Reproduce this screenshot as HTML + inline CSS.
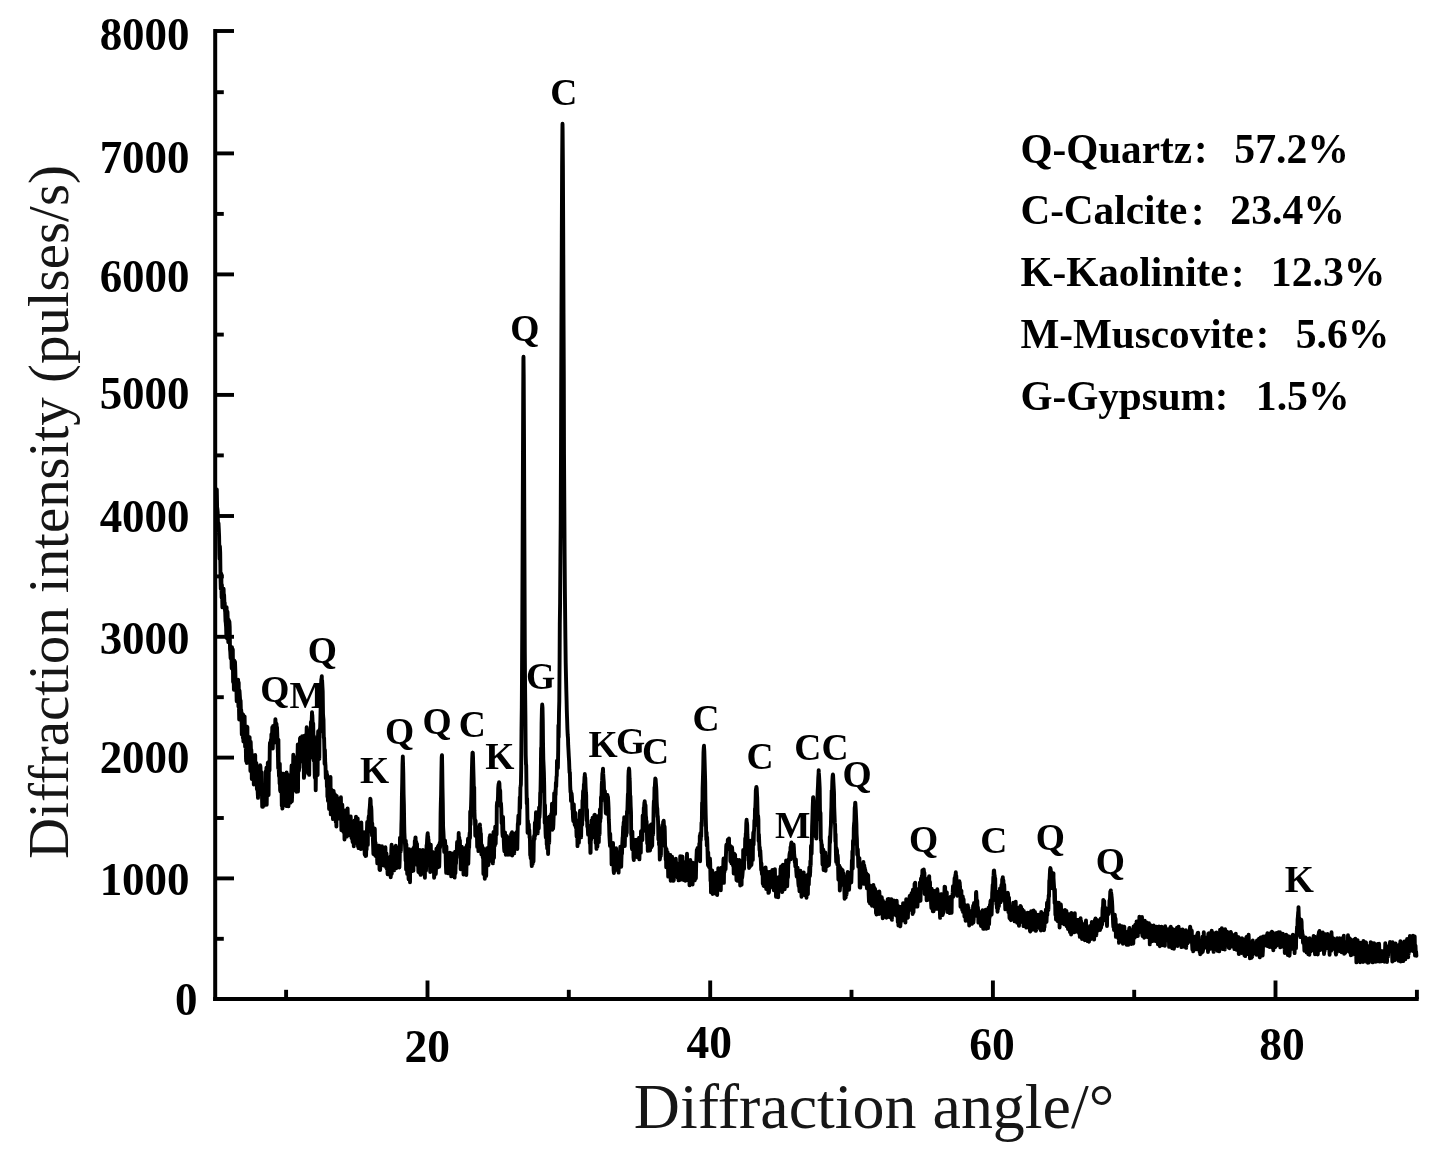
<!DOCTYPE html>
<html lang="en"><head><meta charset="utf-8"><title>XRD pattern</title>
<style>html,body{margin:0;padding:0;background:#fff;}body{width:1435px;height:1155px;overflow:hidden;}svg{display:block;}.b{font-family:"Liberation Serif","Noto Serif CJK SC",serif;font-weight:bold;fill:#000;}.r{font-family:"Liberation Serif","Noto Serif CJK SC",serif;fill:#161616;}</style></head><body>
<svg width="1435" height="1155" viewBox="0 0 1435 1155">
<rect width="1435" height="1155" fill="#fff"/>
<g stroke="#000" stroke-width="4.0" fill="none" stroke-linecap="butt">
<path d="M215.2,29.0 V1001.1"/>
<path d="M213.2,999.1 H1418.7"/>
</g>
<g stroke="#000" stroke-width="3.9" fill="none">
<path d="M215.2,938.8 h8.6"/>
<path d="M215.2,878.4 h18.8"/>
<path d="M215.2,818.0 h8.6"/>
<path d="M215.2,757.6 h18.8"/>
<path d="M215.2,697.2 h8.6"/>
<path d="M215.2,636.8 h18.8"/>
<path d="M215.2,576.4 h8.6"/>
<path d="M215.2,516.0 h18.8"/>
<path d="M215.2,455.4 h8.6"/>
<path d="M215.2,394.9 h18.8"/>
<path d="M215.2,334.6 h8.6"/>
<path d="M215.2,274.4 h18.8"/>
<path d="M215.2,213.9 h8.6"/>
<path d="M215.2,153.4 h18.8"/>
<path d="M215.2,92.2 h8.6"/>
<path d="M215.2,31.0 h18.8"/>
<path d="M286.1,999.1 v-9.3"/>
<path d="M427.5,999.1 v-18.6"/>
<path d="M568.8,999.1 v-9.3"/>
<path d="M710.2,999.1 v-18.6"/>
<path d="M851.5,999.1 v-9.3"/>
<path d="M992.9,999.1 v-18.6"/>
<path d="M1134.2,999.1 v-9.3"/>
<path d="M1275.5,999.1 v-18.6"/>
<path d="M1416.9,999.1 v-9.3"/>
</g>
<g class="b" font-size="45" text-anchor="end">
<text transform="translate(189.6,895.2) scale(1,1.035)">1000</text>
<text transform="translate(189.6,773.4) scale(1,1.035)">2000</text>
<text transform="translate(189.6,654.0) scale(1,1.035)">3000</text>
<text transform="translate(189.6,532.0) scale(1,1.035)">4000</text>
<text transform="translate(189.6,409.4) scale(1,1.035)">5000</text>
<text transform="translate(189.6,292.1) scale(1,1.035)">6000</text>
<text transform="translate(189.6,173.0) scale(1,1.035)">7000</text>
<text transform="translate(189.6,49.9) scale(1,1.035)">8000</text>
<text transform="translate(197.6,1014.8) scale(1,1.035)">0</text>
</g>
<g class="b" font-size="45.5" text-anchor="middle">
<text x="427.2" y="1061.7">20</text>
<text x="709.3" y="1057.7">40</text>
<text x="991.9" y="1059.7">60</text>
<text x="1282.0" y="1059.7">80</text>
</g>
<text class="r" font-size="63" x="874.0" y="1128" text-anchor="middle" textLength="480.5" lengthAdjust="spacingAndGlyphs">Diffraction angle/°</text>
<text class="r" font-size="57.5" transform="translate(68.4,512) rotate(-90)" text-anchor="middle" textLength="694" lengthAdjust="spacingAndGlyphs">Diffraction intensity (pulses/s)</text>
<polyline points="216.0,506.7 216.3,490.7 216.6,493.1 216.8,489.5 217.1,507.0 217.4,509.0 217.7,512.2 218.0,525.3 218.2,531.1 218.5,523.2 218.8,529.2 219.1,536.4 219.4,554.0 219.6,558.9 219.9,546.3 220.2,552.9 220.5,578.0 220.8,589.0 221.0,577.6 221.3,573.8 221.6,597.5 221.9,584.7 222.2,599.0 222.4,607.4 222.7,600.7 223.0,594.7 223.3,603.5 223.6,588.8 223.8,596.2 224.1,594.7 224.4,602.5 224.7,602.6 225.0,610.4 225.2,611.9 225.5,620.9 225.8,623.0 226.1,627.2 226.4,637.5 226.6,607.2 226.9,638.6 227.2,621.5 227.5,611.7 227.8,623.5 228.0,628.4 228.3,642.1 228.6,619.6 228.9,635.4 229.2,636.3 229.4,621.5 229.7,626.8 230.0,649.0 230.3,651.9 230.6,658.2 230.8,654.2 231.1,654.6 231.4,653.4 231.7,668.2 232.0,647.3 232.2,659.2 232.5,669.2 232.8,649.5 233.1,682.0 233.4,661.6 233.6,671.0 233.9,689.8 234.2,660.4 234.5,663.6 234.8,688.6 235.0,661.7 235.3,669.7 235.6,683.3 235.9,684.5 236.2,688.1 236.4,687.5 236.7,701.2 237.0,700.9 237.3,699.5 237.6,686.7 237.8,688.2 238.1,679.6 238.4,706.4 238.7,682.4 239.0,709.1 239.2,719.5 239.5,690.5 239.8,695.6 240.1,699.9 240.4,717.9 240.6,700.5 240.9,711.5 241.2,709.8 241.5,716.3 241.8,734.5 242.0,713.3 242.3,728.1 242.6,731.6 242.9,738.0 243.2,714.8 243.4,741.6 243.7,735.7 244.0,740.9 244.3,732.9 244.6,716.4 244.8,727.6 245.1,746.7 245.4,739.5 245.7,739.8 246.0,758.3 246.2,761.5 246.5,744.6 246.8,763.0 247.1,726.8 247.4,727.3 247.6,757.3 247.9,743.9 248.2,754.4 248.5,754.1 248.8,747.3 249.0,757.9 249.3,752.0 249.6,737.1 249.9,752.6 250.2,751.5 250.4,771.0 250.7,741.7 251.0,751.9 251.3,749.7 251.6,755.3 251.8,779.0 252.1,767.8 252.4,759.3 252.7,768.0 253.0,776.0 253.2,755.2 253.5,762.8 253.8,784.5 254.1,776.9 254.4,765.5 254.6,761.2 254.9,765.9 255.2,754.9 255.5,784.3 255.8,779.0 256.0,778.7 256.3,762.9 256.6,771.1 256.9,789.2 257.2,786.9 257.4,777.2 257.7,792.1 258.0,797.9 258.3,776.8 258.6,777.8 258.8,771.6 259.1,766.8 259.4,790.6 259.7,785.1 260.0,782.3 260.2,765.3 260.5,767.3 260.8,780.1 261.1,775.5 261.4,783.1 261.6,772.1 261.9,791.7 262.2,806.8 262.5,805.1 262.8,806.9 263.0,788.6 263.3,802.7 263.6,786.4 263.9,805.7 264.2,790.0 264.4,788.7 264.7,785.3 265.0,802.1 265.3,794.5 265.6,791.2 265.8,771.1 266.1,789.5 266.4,767.8 266.7,804.7 267.0,786.1 267.2,790.2 267.5,784.7 267.8,762.7 268.1,763.2 268.4,780.3 268.6,795.0 268.9,761.6 269.2,765.0 269.5,770.6 269.8,746.8 270.0,742.6 270.3,748.8 270.6,746.7 270.9,739.5 271.2,743.3 271.4,734.2 271.6,734.8 271.7,736.8 272.0,738.4 272.3,727.3 272.6,735.2 272.8,748.5 273.1,726.0 273.4,731.3 273.7,727.8 274.0,727.1 274.0,729.2 274.2,740.0 274.5,742.5 274.8,738.3 275.1,726.4 275.4,719.1 275.6,723.1 275.9,722.7 276.1,724.4 276.2,724.3 276.5,723.9 276.8,731.3 277.0,727.2 277.3,734.7 277.6,746.7 277.9,752.8 278.2,768.1 278.4,739.6 278.7,767.8 279.0,776.2 279.3,767.4 279.6,783.6 279.8,763.8 280.1,790.1 280.4,791.4 280.7,772.6 281.0,779.4 281.2,788.7 281.5,783.7 281.8,805.8 282.1,797.5 282.4,808.6 282.6,806.8 282.9,790.9 283.2,784.7 283.5,773.8 283.8,775.5 284.0,776.6 284.3,795.1 284.6,778.4 284.9,793.0 285.2,793.9 285.4,781.6 285.7,784.1 286.0,805.5 286.3,806.0 286.6,772.5 286.8,779.0 287.1,776.7 287.4,778.1 287.7,804.3 288.0,792.4 288.2,800.4 288.5,806.3 288.8,775.3 289.1,778.6 289.4,782.7 289.6,798.9 289.9,783.5 290.2,795.7 290.5,802.6 290.8,802.3 291.0,792.8 291.3,774.3 291.6,765.5 291.9,801.2 292.2,793.0 292.4,771.1 292.7,775.1 293.0,772.4 293.3,754.7 293.6,772.6 293.8,756.4 294.1,758.1 294.4,765.3 294.4,757.4 294.7,763.9 295.0,765.6 295.2,764.5 295.5,767.8 295.8,790.7 296.1,767.9 296.4,791.7 296.6,757.1 296.9,780.4 297.2,771.4 297.5,758.6 297.8,744.4 298.0,791.6 298.3,754.1 298.6,755.7 298.9,770.8 299.2,767.5 299.4,767.6 299.7,755.5 300.0,738.2 300.3,759.7 300.6,737.5 300.8,743.4 301.1,742.8 301.2,745.3 301.4,740.0 301.7,743.2 302.0,749.2 302.2,736.1 302.5,750.3 302.8,747.9 303.1,745.5 303.4,762.6 303.6,752.3 303.9,777.9 304.2,775.7 304.5,735.6 304.8,758.9 305.0,745.0 305.3,767.0 305.6,759.5 305.9,761.7 306.2,749.5 306.4,748.4 306.5,736.3 306.7,727.3 307.0,729.8 307.3,732.3 307.6,737.5 307.8,735.7 308.1,773.2 308.4,750.2 308.7,772.6 309.0,747.9 309.2,774.9 309.5,736.3 309.8,758.3 310.1,732.1 310.4,750.9 310.6,757.6 310.9,722.0 311.2,723.8 311.5,726.1 311.8,717.8 312.0,712.2 312.2,715.7 312.3,714.8 312.6,721.8 312.9,726.4 313.2,723.5 313.4,735.3 313.7,760.5 314.0,736.3 314.3,751.0 314.6,769.4 314.8,777.3 315.1,778.3 315.4,748.5 315.7,790.3 316.0,766.4 316.2,767.2 316.5,764.6 316.8,758.9 317.1,747.5 317.4,753.4 317.6,775.1 317.9,738.6 318.2,731.1 318.5,758.1 318.8,753.4 319.0,755.8 319.3,759.0 319.6,729.5 319.9,732.5 320.2,725.5 320.4,718.5 320.7,705.4 321.0,686.3 321.3,679.7 321.6,678.2 321.8,676.3 321.8,679.9 322.1,680.4 322.4,686.0 322.7,691.4 323.0,713.3 323.2,716.6 323.5,719.6 323.8,737.8 324.1,737.9 324.4,751.4 324.6,763.9 324.9,749.9 325.2,762.2 325.5,765.6 325.8,778.1 326.0,776.7 326.3,775.0 326.6,771.8 326.9,786.8 327.2,774.7 327.4,796.8 327.7,794.1 328.0,800.9 328.3,792.5 328.6,790.6 328.8,790.0 329.1,809.0 329.4,797.7 329.7,797.6 330.0,781.9 330.2,800.6 330.5,776.9 330.8,814.4 331.1,800.6 331.4,804.4 331.6,789.6 331.9,793.5 332.2,812.6 332.5,804.5 332.8,811.8 333.0,819.1 333.3,815.4 333.6,790.9 333.9,800.0 334.2,799.8 334.4,803.8 334.7,794.0 335.0,795.2 335.3,809.5 335.6,811.6 335.8,822.1 336.1,813.3 336.4,826.5 336.7,796.0 337.0,798.7 337.2,815.4 337.5,809.2 337.8,801.3 338.1,818.1 338.4,818.6 338.6,817.9 338.9,799.0 339.2,801.0 339.5,803.0 339.8,802.8 340.0,814.4 340.3,802.4 340.6,812.8 340.9,797.2 341.2,820.5 341.4,830.1 341.7,815.8 342.0,828.8 342.3,804.7 342.6,819.6 342.8,809.2 343.1,829.7 343.4,831.9 343.7,812.2 344.0,816.2 344.2,817.3 344.5,839.5 344.8,820.8 345.1,822.7 345.4,825.5 345.6,825.4 345.9,820.0 346.2,810.1 346.5,815.0 346.8,836.6 347.0,822.1 347.3,814.7 347.6,808.4 347.9,818.3 348.2,821.2 348.4,816.9 348.7,835.1 349.0,821.2 349.3,825.7 349.6,834.7 349.8,825.9 350.1,833.2 350.4,818.1 350.7,816.5 351.0,826.3 351.2,825.8 351.5,838.0 351.8,833.0 352.1,831.3 352.4,838.5 352.6,842.0 352.9,826.7 353.2,837.9 353.5,835.8 353.8,846.3 354.0,830.9 354.3,843.7 354.6,820.4 354.9,830.9 355.2,841.7 355.4,828.3 355.7,842.8 356.0,816.6 356.3,832.6 356.6,834.4 356.8,831.9 357.1,820.9 357.4,842.2 357.7,818.4 358.0,846.5 358.2,841.9 358.5,848.1 358.8,836.9 359.1,828.0 359.4,833.0 359.6,832.5 359.9,842.6 360.2,832.4 360.5,839.3 360.8,839.8 361.0,849.1 361.3,822.4 361.6,834.2 361.9,847.1 362.2,848.6 362.4,837.5 362.7,841.2 363.0,843.1 363.3,845.2 363.6,837.5 363.8,836.4 364.1,832.1 364.4,839.5 364.7,854.5 365.0,834.4 365.2,852.0 365.5,856.1 365.8,843.7 366.1,855.7 366.4,835.8 366.6,849.7 366.9,832.0 367.2,822.0 367.5,832.8 367.8,844.9 368.0,823.4 368.3,832.2 368.6,817.8 368.9,815.7 369.2,820.5 369.4,810.9 369.7,808.3 370.0,804.3 370.3,798.6 370.4,799.0 370.6,800.3 370.8,806.9 371.1,806.3 371.4,810.2 371.7,821.1 372.0,835.4 372.2,823.2 372.5,829.5 372.8,836.1 373.1,844.9 373.4,854.0 373.6,829.7 373.9,828.1 374.2,844.3 374.5,849.0 374.8,828.8 375.0,839.9 375.3,855.8 375.6,842.7 375.9,853.5 376.2,851.3 376.4,856.6 376.7,856.0 377.0,855.7 377.3,863.4 377.6,847.8 377.8,853.6 378.1,861.7 378.4,845.7 378.7,847.9 379.0,845.6 379.2,845.6 379.5,869.5 379.8,862.1 380.1,870.1 380.4,864.4 380.6,858.5 380.9,854.6 381.2,859.4 381.5,855.4 381.8,863.3 382.0,846.2 382.3,855.1 382.6,858.5 382.9,853.0 383.2,854.8 383.4,864.1 383.7,865.4 384.0,860.1 384.3,861.0 384.6,855.5 384.8,865.8 385.1,859.2 385.4,847.3 385.7,857.9 386.0,867.1 386.2,864.5 386.5,853.5 386.8,868.6 387.1,867.8 387.4,868.1 387.6,874.2 387.9,860.0 388.2,869.0 388.5,862.0 388.8,872.9 389.0,874.4 389.3,871.3 389.6,873.5 389.9,861.8 390.2,872.9 390.4,856.5 390.7,877.3 391.0,873.1 391.3,849.9 391.6,844.8 391.8,873.7 392.1,857.3 392.4,870.9 392.7,854.6 393.0,866.6 393.2,857.9 393.5,867.1 393.8,855.8 394.1,870.4 394.4,850.1 394.6,868.3 394.9,856.9 395.2,862.9 395.5,846.4 395.8,845.8 396.0,868.4 396.3,848.9 396.6,856.4 396.9,857.1 397.2,852.1 397.4,862.4 397.7,847.7 398.0,849.0 398.3,867.4 398.6,851.9 398.8,865.7 399.1,864.4 399.4,867.5 399.7,859.4 400.0,837.6 400.2,844.5 400.5,844.0 400.8,851.2 401.1,840.1 401.4,824.5 401.6,818.5 401.9,796.9 402.2,782.8 402.5,764.4 402.8,757.2 402.8,756.4 403.0,762.1 403.3,773.6 403.6,794.2 403.9,804.5 404.2,824.5 404.4,832.8 404.7,839.4 405.0,844.3 405.3,851.1 405.6,860.7 405.8,840.8 406.1,869.5 406.4,844.4 406.7,864.1 407.0,865.0 407.2,874.0 407.5,871.9 407.8,869.4 408.1,868.8 408.4,873.4 408.6,879.3 408.9,864.2 409.2,849.1 409.5,857.2 409.8,865.9 410.0,882.2 410.3,858.2 410.6,862.5 410.9,871.0 411.2,868.1 411.4,853.2 411.7,871.3 412.0,851.5 412.3,857.9 412.6,871.1 412.8,849.0 413.1,854.1 413.4,870.6 413.7,853.2 414.0,847.2 414.2,849.8 414.5,860.5 414.8,840.9 415.1,844.1 415.4,837.5 415.6,837.5 415.7,850.2 415.9,842.4 416.2,841.5 416.5,850.1 416.8,844.4 417.0,843.9 417.3,865.1 417.6,865.0 417.9,851.0 418.2,865.7 418.4,872.0 418.7,865.0 419.0,866.2 419.3,852.2 419.6,862.9 419.8,849.9 420.1,873.8 420.4,862.6 420.7,874.9 421.0,857.4 421.2,872.9 421.5,852.4 421.8,862.6 422.1,871.1 422.4,868.7 422.6,863.4 422.9,849.9 423.2,873.5 423.5,868.7 423.8,872.9 424.0,873.2 424.3,860.6 424.6,867.4 424.9,877.7 425.2,853.9 425.4,864.0 425.7,853.0 426.0,870.6 426.3,856.3 426.6,845.0 426.8,846.6 427.1,840.2 427.4,835.6 427.7,833.2 428.0,839.3 428.2,836.7 428.2,844.6 428.5,839.4 428.8,849.4 429.1,861.6 429.4,843.7 429.6,845.0 429.9,864.5 430.2,872.0 430.5,848.5 430.8,844.7 431.0,855.1 431.3,855.8 431.6,868.1 431.9,853.2 432.2,861.7 432.4,862.3 432.7,851.9 433.0,852.4 433.3,870.6 433.6,871.6 433.8,859.6 434.1,877.7 434.4,875.1 434.7,872.3 435.0,873.7 435.2,871.8 435.5,874.0 435.8,874.0 436.1,866.5 436.4,848.8 436.6,862.6 436.9,855.7 437.2,852.1 437.5,867.5 437.8,846.6 438.0,866.8 438.3,851.5 438.6,845.3 438.9,846.4 439.2,866.8 439.4,860.6 439.7,842.8 440.0,847.9 440.3,843.1 440.6,813.7 440.8,804.4 441.1,794.6 441.4,773.2 441.7,757.4 441.9,755.5 442.0,755.2 442.2,765.6 442.5,787.9 442.8,803.5 443.1,826.9 443.4,831.7 443.6,835.7 443.9,842.9 444.2,852.0 444.5,851.6 444.8,850.4 445.0,840.5 445.3,844.4 445.6,852.8 445.9,865.4 446.2,872.9 446.4,846.5 446.7,861.3 447.0,858.2 447.3,861.4 447.6,864.7 447.8,855.6 448.1,853.1 448.4,873.4 448.7,871.7 449.0,860.9 449.2,863.5 449.5,857.9 449.8,852.8 450.1,868.6 450.4,856.2 450.6,853.2 450.9,856.5 451.2,876.4 451.5,866.8 451.8,865.1 452.0,863.7 452.3,871.2 452.6,870.3 452.9,853.5 453.2,863.3 453.4,861.4 453.7,871.5 454.0,870.3 454.3,853.5 454.6,877.6 454.8,871.2 455.1,851.8 455.4,873.3 455.7,862.5 456.0,863.6 456.2,858.0 456.5,858.0 456.8,850.6 457.1,842.0 457.4,846.3 457.6,850.2 457.9,846.3 458.2,846.9 458.5,841.2 458.7,833.0 458.8,844.7 459.0,838.7 459.3,837.5 459.6,845.0 459.9,840.4 460.2,853.9 460.4,845.7 460.7,869.3 461.0,853.7 461.3,852.8 461.6,853.4 461.8,846.8 462.1,853.3 462.4,854.7 462.7,858.8 463.0,848.2 463.2,863.4 463.5,874.5 463.8,860.0 464.1,863.5 464.4,867.8 464.6,856.0 464.9,858.9 465.2,871.2 465.5,864.2 465.8,851.0 466.0,847.1 466.3,875.0 466.6,861.9 466.9,845.0 467.2,857.3 467.4,861.6 467.7,855.1 468.0,838.8 468.3,863.8 468.6,853.0 468.8,842.9 469.1,848.4 469.4,837.2 469.7,832.6 470.0,838.0 470.2,811.5 470.5,824.8 470.8,812.2 471.1,804.2 471.4,793.2 471.6,782.3 471.9,769.7 472.2,759.1 472.5,752.6 472.6,753.1 472.8,752.7 473.0,756.5 473.3,768.1 473.6,778.5 473.9,793.5 474.2,787.2 474.4,810.4 474.7,818.6 475.0,819.8 475.3,835.7 475.6,820.7 475.8,832.4 476.1,829.2 476.4,834.1 476.7,829.9 477.0,837.3 477.2,846.9 477.5,843.6 477.8,846.5 478.1,837.1 478.4,851.1 478.6,835.0 478.9,836.1 479.2,833.3 479.5,826.4 479.8,825.5 479.9,824.5 480.0,826.7 480.3,829.2 480.6,834.2 480.9,833.5 481.2,846.3 481.4,854.4 481.7,854.2 482.0,845.3 482.3,849.9 482.6,853.9 482.8,857.6 483.1,847.9 483.4,874.1 483.7,860.2 484.0,863.8 484.2,860.3 484.5,866.1 484.8,878.7 485.1,860.0 485.4,864.0 485.6,858.2 485.9,861.2 486.2,876.0 486.5,857.1 486.8,857.7 487.0,848.1 487.3,858.8 487.6,864.4 487.9,857.2 488.2,856.8 488.4,865.2 488.7,860.3 489.0,851.7 489.3,843.6 489.6,837.2 489.8,853.9 490.1,835.1 490.3,847.9 490.4,845.0 490.7,844.0 491.0,854.6 491.2,848.2 491.5,861.0 491.8,845.4 492.1,857.5 492.4,861.5 492.6,840.6 492.9,863.4 493.2,853.6 493.5,832.0 493.8,855.4 494.0,857.9 494.3,839.1 494.6,839.9 494.9,845.5 495.2,826.7 495.4,841.3 495.7,843.6 496.0,827.1 496.3,834.9 496.6,834.3 496.8,805.9 497.1,802.3 497.4,801.9 497.7,803.5 498.0,796.7 498.2,788.3 498.5,784.9 498.8,783.3 499.0,784.7 499.1,782.2 499.4,783.5 499.6,788.9 499.9,789.7 500.2,790.9 500.5,806.1 500.8,805.2 501.0,803.3 501.3,809.0 501.6,823.3 501.9,815.9 502.2,824.0 502.4,832.6 502.7,836.4 503.0,816.9 503.3,829.0 503.6,833.9 503.8,841.0 504.1,848.0 504.4,851.3 504.7,839.2 505.0,832.4 505.2,844.6 505.5,835.8 505.8,854.8 506.1,844.8 506.4,842.0 506.6,851.3 506.9,835.9 507.2,839.5 507.5,841.7 507.8,849.9 508.0,854.7 508.3,850.2 508.6,849.8 508.9,840.2 509.2,846.7 509.4,840.9 509.7,854.6 510.0,837.5 510.3,842.5 510.6,844.7 510.8,848.9 511.1,834.0 511.4,838.0 511.7,834.3 512.0,832.3 512.2,855.5 512.5,851.8 512.8,834.7 513.1,839.0 513.4,852.9 513.6,839.6 513.9,833.9 514.2,853.4 514.5,835.6 514.8,836.4 515.0,846.1 515.3,834.1 515.6,841.5 515.9,842.8 516.2,847.8 516.4,832.1 516.7,847.9 517.0,839.0 517.3,849.0 517.6,833.7 517.8,824.4 518.1,822.3 518.4,815.5 518.7,822.0 519.0,818.1 519.2,823.8 519.5,810.7 519.8,797.1 520.1,808.2 520.4,787.2 520.6,786.4 520.9,784.5 521.2,767.7 521.5,731.0 521.8,707.4 522.0,676.3 522.3,621.2 522.6,550.5 522.9,473.4 523.2,393.7 523.4,358.9 523.5,356.8 523.7,375.0 524.0,436.8 524.3,519.1 524.6,595.5 524.8,651.1 525.1,689.9 525.4,716.0 525.7,755.3 526.0,764.5 526.2,765.2 526.5,788.1 526.8,803.6 527.1,798.6 527.4,815.9 527.6,832.7 527.9,820.7 528.2,825.8 528.5,828.6 528.8,824.4 529.0,830.7 529.3,829.8 529.6,837.8 529.9,836.5 530.2,855.1 530.4,847.0 530.7,858.3 531.0,842.1 531.3,854.3 531.6,862.8 531.8,866.1 532.1,855.8 532.4,861.9 532.7,864.0 533.0,859.0 533.2,856.2 533.5,861.4 533.8,842.4 534.1,835.8 534.4,838.0 534.6,839.0 534.9,822.6 535.2,835.5 535.5,822.5 535.8,819.3 536.0,812.3 536.0,813.8 536.3,819.1 536.6,824.0 536.9,823.9 537.2,818.7 537.4,820.6 537.7,833.4 538.0,815.1 538.3,812.9 538.6,819.0 538.8,828.2 539.1,807.4 539.4,817.7 539.7,813.2 540.0,804.4 540.2,793.0 540.5,791.8 540.8,775.0 541.1,748.2 541.4,746.8 541.6,723.7 541.9,710.2 542.2,704.5 542.2,704.6 542.5,707.7 542.8,721.8 543.0,741.7 543.3,759.0 543.6,765.5 543.9,772.6 544.2,785.8 544.4,800.1 544.7,823.0 545.0,805.0 545.3,823.4 545.6,833.6 545.8,837.5 546.1,833.3 546.4,817.5 546.7,844.5 547.0,842.8 547.2,848.5 547.5,836.2 547.8,841.2 548.1,854.0 548.4,841.8 548.6,840.1 548.9,830.1 549.2,842.9 549.5,816.4 549.8,820.8 550.0,823.8 550.3,816.8 550.5,820.3 550.6,816.8 550.9,822.5 551.2,813.9 551.4,815.8 551.7,820.2 552.0,803.6 552.3,829.8 552.6,808.1 552.8,827.2 553.1,828.6 553.4,824.3 553.7,814.8 554.0,804.2 554.2,793.1 554.5,811.1 554.8,799.1 555.1,814.1 555.4,790.3 555.6,795.0 555.9,782.5 556.2,786.7 556.5,777.0 556.8,775.6 557.0,760.6 557.3,762.3 557.6,762.0 557.9,768.0 558.2,750.1 558.4,725.3 558.7,737.2 559.0,712.4 559.3,700.8 559.6,660.3 559.8,624.4 560.1,602.9 560.4,561.1 560.7,523.5 561.0,451.6 561.2,386.6 561.5,308.9 561.8,237.5 562.1,167.5 562.4,130.3 562.5,123.8 562.6,128.6 562.9,165.6 563.2,232.4 563.5,311.9 563.8,376.3 564.0,453.3 564.3,502.6 564.6,553.9 564.9,592.0 565.2,620.5 565.4,638.5 565.7,662.8 566.0,676.6 566.3,689.8 566.6,701.3 566.8,710.0 567.0,716.5 567.1,719.0 567.4,728.7 567.7,735.0 568.0,738.2 568.2,745.2 568.5,750.4 568.8,756.3 569.1,761.2 569.4,769.7 569.6,772.8 569.9,772.6 570.2,785.5 570.5,792.2 570.8,790.8 571.0,800.9 571.3,799.1 571.6,793.4 571.9,796.9 572.2,802.6 572.4,809.4 572.7,808.4 573.0,817.6 573.3,821.2 573.6,804.2 573.8,804.4 574.1,813.1 574.4,819.2 574.7,824.8 575.0,823.5 575.2,825.0 575.5,813.0 575.8,827.5 576.1,819.6 576.4,831.4 576.6,836.3 576.9,821.4 577.2,826.2 577.5,846.1 577.8,824.0 578.0,828.4 578.3,823.9 578.6,821.2 578.9,842.8 579.2,827.1 579.4,826.3 579.7,823.5 580.0,810.7 580.3,837.0 580.6,823.2 580.8,827.0 581.1,837.4 581.4,821.6 581.7,821.3 582.0,818.2 582.2,824.8 582.5,800.3 582.8,801.5 583.1,791.0 583.4,797.8 583.6,796.0 583.9,784.1 584.2,784.7 584.5,777.2 584.8,775.5 584.8,774.0 585.0,777.2 585.3,777.8 585.6,786.6 585.9,792.3 586.2,795.3 586.4,815.5 586.7,820.5 587.0,809.7 587.3,826.6 587.6,825.0 587.8,828.5 588.1,834.7 588.4,825.4 588.7,833.5 589.0,835.3 589.2,826.7 589.5,828.4 589.8,843.1 590.1,836.1 590.4,852.9 590.6,852.7 590.9,829.8 591.2,839.7 591.5,820.5 591.8,827.5 592.0,824.3 592.3,823.9 592.6,817.6 592.9,830.9 593.2,828.9 593.4,820.4 593.7,824.7 594.0,832.6 594.2,837.1 594.3,815.3 594.6,835.2 594.8,814.6 595.1,818.0 595.4,822.1 595.7,843.0 596.0,837.9 596.2,840.6 596.5,848.9 596.8,839.6 597.1,831.7 597.4,846.8 597.6,829.6 597.9,819.2 598.2,816.0 598.5,827.7 598.8,842.1 599.0,833.1 599.3,826.0 599.6,834.4 599.9,809.5 600.2,821.6 600.4,808.6 600.7,818.3 601.0,797.0 601.3,802.2 601.6,791.7 601.8,784.4 602.1,780.7 602.4,773.6 602.7,772.2 602.9,769.8 603.0,768.6 603.2,773.7 603.5,778.5 603.8,782.4 604.1,792.1 604.4,795.5 604.6,791.7 604.9,791.0 605.2,798.4 605.5,805.8 605.8,813.1 606.0,798.8 606.3,800.1 606.6,813.7 606.9,797.9 607.2,796.3 607.4,794.9 607.7,798.1 608.0,796.9 608.0,797.5 608.3,802.1 608.6,808.7 608.8,819.2 609.1,825.0 609.4,835.4 609.7,840.7 610.0,845.9 610.2,833.7 610.5,844.5 610.8,844.9 611.1,843.5 611.4,849.9 611.6,864.4 611.9,858.5 612.2,850.0 612.5,852.0 612.8,862.4 613.0,842.9 613.3,855.9 613.6,870.0 613.9,873.1 614.2,870.2 614.4,870.2 614.7,851.7 615.0,862.1 615.3,868.0 615.6,870.0 615.8,867.8 616.1,848.3 616.4,854.6 616.7,859.6 617.0,851.9 617.2,855.1 617.5,862.0 617.8,861.6 618.1,861.9 618.4,868.6 618.6,872.6 618.9,859.7 619.2,852.9 619.5,854.5 619.8,855.0 620.0,858.5 620.3,846.8 620.6,851.7 620.9,856.3 621.2,866.8 621.4,859.8 621.7,851.2 622.0,854.0 622.3,843.5 622.6,837.6 622.8,836.6 623.1,828.9 623.2,826.4 623.4,829.0 623.7,822.2 624.0,828.4 624.2,817.2 624.5,828.8 624.8,846.0 625.1,831.6 625.4,835.4 625.6,830.5 625.9,823.5 626.2,835.8 626.5,828.0 626.8,833.0 627.0,811.3 627.3,813.4 627.6,803.6 627.9,794.2 628.2,792.9 628.4,776.9 628.7,770.4 629.0,770.0 629.0,768.5 629.3,770.8 629.6,779.0 629.8,781.7 630.1,795.9 630.4,795.9 630.7,806.2 631.0,812.4 631.2,835.0 631.5,834.1 631.8,846.9 632.1,849.2 632.4,831.6 632.6,845.7 632.9,838.7 633.2,839.2 633.5,857.4 633.8,860.1 634.0,851.9 634.3,853.8 634.6,852.9 634.9,852.7 635.2,852.8 635.4,840.0 635.7,856.0 636.0,844.0 636.3,840.1 636.6,849.8 636.8,853.2 637.1,857.2 637.4,851.2 637.7,849.0 638.0,839.3 638.2,848.3 638.5,846.0 638.8,846.7 639.1,837.6 639.4,859.4 639.6,852.6 639.9,852.3 640.2,846.9 640.5,842.9 640.8,852.8 641.0,831.3 641.3,836.2 641.6,835.2 641.9,840.5 642.2,829.5 642.4,840.1 642.7,815.4 643.0,832.0 643.3,820.2 643.6,818.2 643.8,807.9 644.1,807.6 644.4,802.7 644.6,802.7 644.7,801.1 645.0,805.0 645.2,808.3 645.5,805.1 645.8,815.6 646.1,817.5 646.4,829.0 646.6,821.1 646.9,832.0 647.2,843.5 647.5,829.7 647.8,850.9 648.0,844.1 648.3,840.5 648.6,829.6 648.9,826.5 649.2,849.4 649.4,836.2 649.7,834.8 650.0,850.5 650.3,847.8 650.6,842.6 650.8,827.8 651.1,824.4 651.4,847.1 651.7,837.8 652.0,834.1 652.2,845.7 652.5,827.5 652.8,830.7 653.1,834.7 653.4,822.7 653.6,808.5 653.9,800.8 654.2,804.4 654.5,787.3 654.8,787.7 655.0,783.5 655.3,778.4 655.5,779.2 655.6,779.1 655.9,783.5 656.2,787.2 656.4,790.5 656.7,801.5 657.0,807.2 657.3,808.6 657.6,816.9 657.8,816.0 658.1,822.7 658.4,839.4 658.7,824.9 659.0,844.2 659.2,845.0 659.5,842.5 659.8,859.6 660.1,857.3 660.4,846.6 660.6,852.4 660.9,855.7 661.2,833.9 661.5,842.5 661.8,836.0 662.0,838.0 662.3,845.7 662.6,827.4 662.9,825.9 663.2,821.7 663.4,822.1 663.6,822.3 663.7,820.8 664.0,827.4 664.3,833.9 664.6,826.5 664.8,831.3 665.1,845.8 665.4,847.0 665.7,859.7 666.0,850.7 666.2,867.2 666.5,849.0 666.8,865.8 667.1,859.9 667.4,860.4 667.6,852.1 667.9,861.3 668.2,876.6 668.5,859.2 668.8,862.5 669.0,865.7 669.3,857.2 669.6,867.1 669.9,870.5 670.2,864.0 670.4,854.9 670.7,880.7 671.0,869.3 671.3,868.9 671.6,867.1 671.8,863.6 672.1,856.7 672.4,867.8 672.7,869.3 673.0,876.5 673.2,880.9 673.5,860.7 673.8,880.2 674.1,867.4 674.4,872.9 674.6,859.9 674.9,872.1 675.2,861.1 675.5,875.2 675.8,858.7 676.0,867.7 676.3,862.5 676.6,868.7 676.9,867.9 677.2,867.9 677.4,863.6 677.7,877.8 678.0,877.4 678.3,866.7 678.6,880.4 678.8,867.9 679.1,873.2 679.4,869.9 679.7,868.8 680.0,876.1 680.2,856.3 680.5,879.8 680.8,856.5 681.1,879.1 681.4,872.5 681.6,856.4 681.9,867.7 682.2,861.4 682.5,856.7 682.8,875.1 683.0,874.8 683.3,868.4 683.6,880.0 683.9,867.1 684.2,864.1 684.4,879.2 684.7,862.4 685.0,877.4 685.3,880.9 685.6,875.2 685.8,875.3 686.1,879.0 686.4,877.2 686.7,868.2 687.0,853.8 687.2,868.1 687.5,859.9 687.8,880.1 688.1,867.5 688.4,874.1 688.6,878.5 688.9,880.5 689.2,863.1 689.5,885.3 689.8,877.8 690.0,874.3 690.3,860.0 690.6,882.8 690.9,871.8 691.2,875.4 691.4,862.4 691.7,881.4 692.0,879.4 692.3,866.9 692.6,884.5 692.8,862.7 693.1,881.0 693.4,880.1 693.7,880.4 694.0,867.7 694.2,870.0 694.5,880.2 694.8,880.3 695.1,870.9 695.4,868.2 695.6,864.3 695.9,878.2 696.2,862.7 696.5,857.0 696.8,850.2 697.0,849.6 697.3,850.9 697.6,848.0 697.9,855.5 698.2,857.8 698.4,852.6 698.7,857.1 699.0,858.6 699.3,843.5 699.6,859.5 699.8,835.8 700.1,861.3 700.4,833.3 700.7,840.5 701.0,834.4 701.2,837.2 701.5,822.6 701.8,826.1 702.1,802.6 702.4,807.1 702.6,788.6 702.9,779.2 703.2,768.4 703.5,752.6 703.8,747.4 704.0,745.7 704.0,746.7 704.3,750.8 704.6,760.7 704.9,771.2 705.2,782.4 705.4,799.4 705.7,814.9 706.0,826.1 706.3,839.8 706.6,832.4 706.8,845.6 707.1,837.2 707.4,844.8 707.7,858.1 708.0,865.2 708.2,852.4 708.5,862.1 708.8,860.9 709.1,867.1 709.4,867.4 709.6,864.6 709.9,858.4 710.2,863.2 710.5,880.9 710.8,879.2 711.0,892.4 711.3,882.4 711.6,888.9 711.9,871.8 712.2,870.5 712.4,883.7 712.7,894.0 713.0,887.0 713.3,881.7 713.6,888.4 713.8,890.1 714.1,888.7 714.4,885.2 714.7,876.2 715.0,876.0 715.2,880.9 715.5,883.6 715.8,873.0 716.1,894.0 716.4,886.3 716.6,875.5 716.9,885.5 717.2,895.0 717.5,878.7 717.8,878.1 718.0,885.1 718.3,868.1 718.6,873.2 718.9,873.3 719.2,888.0 719.4,869.6 719.7,885.9 720.0,878.4 720.3,879.3 720.6,875.9 720.8,890.2 721.1,871.2 721.4,867.8 721.7,878.6 722.0,869.7 722.2,878.0 722.5,872.3 722.8,873.1 723.1,873.4 723.4,860.7 723.6,858.5 723.9,882.9 724.2,860.3 724.5,872.0 724.8,858.1 725.0,864.8 725.3,862.2 725.6,869.1 725.9,857.4 726.2,846.8 726.4,844.8 726.7,849.5 727.0,849.2 727.3,849.4 727.6,847.3 727.8,839.8 728.0,842.7 728.1,839.8 728.4,843.4 728.7,845.4 729.0,838.4 729.2,848.6 729.5,849.8 729.8,846.1 730.1,845.6 730.4,861.3 730.6,850.5 730.9,846.4 731.2,854.7 731.5,863.4 731.8,861.9 732.0,847.3 732.3,850.4 732.6,858.1 732.9,864.7 733.2,866.0 733.4,855.1 733.7,873.5 734.0,869.8 734.3,853.6 734.6,856.9 734.8,864.0 735.1,854.6 735.4,866.6 735.7,868.1 736.0,862.5 736.2,871.4 736.5,880.1 736.8,859.7 737.1,869.9 737.4,862.8 737.6,880.9 737.9,880.6 738.2,872.4 738.5,867.0 738.8,878.7 739.0,870.5 739.3,860.0 739.6,861.4 739.9,869.6 740.2,885.5 740.4,882.8 740.7,884.7 741.0,883.7 741.3,884.9 741.6,884.7 741.8,866.0 742.1,877.9 742.4,875.5 742.7,871.8 743.0,869.1 743.2,850.0 743.5,864.5 743.8,851.7 744.1,868.8 744.4,854.4 744.6,855.0 744.9,854.8 745.2,838.3 745.5,846.1 745.8,833.3 746.0,833.9 746.3,823.3 746.6,819.8 746.6,821.5 746.9,822.4 747.2,825.2 747.4,834.7 747.7,839.7 748.0,847.4 748.3,841.2 748.6,860.5 748.8,857.0 749.1,868.0 749.4,862.3 749.7,849.1 750.0,866.5 750.2,854.4 750.5,856.8 750.8,840.8 751.1,844.4 751.4,865.0 751.6,862.8 751.9,840.3 752.2,856.2 752.5,855.7 752.8,859.9 753.0,839.9 753.3,832.5 753.6,844.8 753.9,832.6 754.2,828.1 754.4,820.3 754.7,826.0 755.0,808.5 755.3,808.9 755.6,799.9 755.8,790.6 756.1,788.6 756.4,787.2 756.4,786.9 756.7,788.1 757.0,794.3 757.2,797.4 757.5,809.5 757.8,821.8 758.1,815.6 758.4,819.7 758.6,841.1 758.9,834.3 759.2,841.5 759.5,850.1 759.8,847.2 760.0,856.1 760.3,850.4 760.6,856.0 760.9,862.1 761.2,870.0 761.4,863.3 761.7,871.0 762.0,874.2 762.3,874.3 762.6,870.2 762.8,883.6 763.1,868.2 763.4,885.0 763.7,886.0 764.0,886.0 764.2,874.3 764.5,886.2 764.8,881.4 765.1,868.4 765.4,873.5 765.6,867.5 765.9,879.7 766.2,889.0 766.5,886.4 766.8,871.5 767.0,872.2 767.3,879.5 767.6,880.9 767.9,889.4 768.2,881.4 768.4,892.9 768.7,880.3 769.0,892.3 769.3,871.9 769.6,877.2 769.8,881.3 770.1,887.8 770.4,885.5 770.7,874.0 771.0,871.4 771.2,881.4 771.5,880.6 771.8,877.2 772.1,879.5 772.4,870.0 772.6,883.1 772.9,887.0 773.2,871.9 773.5,872.6 773.8,890.2 774.0,889.6 774.3,874.3 774.6,875.1 774.9,869.1 775.2,886.1 775.4,884.4 775.7,883.9 776.0,896.7 776.3,883.2 776.6,883.8 776.8,886.6 777.1,882.7 777.4,892.7 777.7,884.3 778.0,887.8 778.2,897.2 778.5,882.8 778.8,876.9 779.1,887.5 779.4,879.4 779.6,877.8 779.9,883.8 780.2,887.6 780.5,868.6 780.8,877.2 781.0,866.4 781.3,887.7 781.6,871.9 781.9,885.7 782.2,892.1 782.4,888.9 782.7,880.3 783.0,864.6 783.3,889.6 783.6,871.3 783.8,882.1 784.1,871.8 784.4,874.8 784.7,889.2 785.0,865.4 785.2,867.2 785.5,873.6 785.8,883.9 786.1,860.5 786.4,883.9 786.6,870.6 786.9,879.5 787.2,886.2 787.5,876.0 787.8,877.9 788.0,876.9 788.3,862.2 788.6,863.0 788.9,858.8 789.2,859.9 789.4,855.5 789.7,853.3 790.0,851.9 790.3,858.5 790.5,847.0 790.6,853.7 790.8,859.2 791.1,844.4 791.4,842.5 791.7,855.0 792.0,845.6 792.2,846.6 792.5,854.9 792.8,852.6 793.1,847.1 793.4,848.5 793.6,844.5 793.9,848.0 794.0,850.6 794.2,854.5 794.5,856.9 794.8,862.4 795.0,859.2 795.3,866.4 795.6,865.5 795.9,859.5 796.2,870.2 796.4,872.6 796.7,876.6 797.0,876.8 797.3,875.0 797.6,867.8 797.8,872.9 798.1,879.1 798.4,883.7 798.7,886.4 799.0,884.0 799.2,886.4 799.5,891.3 799.8,881.2 800.1,874.9 800.4,870.7 800.6,881.3 800.9,888.5 801.2,882.3 801.5,896.7 801.8,880.8 802.0,885.3 802.3,887.7 802.6,876.9 802.9,893.6 803.2,878.4 803.4,875.3 803.7,872.4 804.0,892.1 804.3,895.1 804.6,878.0 804.8,876.1 805.1,883.5 805.4,886.5 805.7,880.7 806.0,888.5 806.2,875.6 806.5,897.7 806.8,887.0 807.1,892.4 807.4,880.8 807.6,891.6 807.9,894.3 808.2,874.3 808.5,879.1 808.8,884.8 809.0,878.5 809.3,867.5 809.6,868.7 809.9,876.0 810.2,871.8 810.4,860.9 810.7,865.7 811.0,845.8 811.3,854.3 811.6,853.8 811.8,844.8 812.1,826.9 812.4,818.7 812.7,807.4 813.0,799.8 813.1,797.7 813.2,797.1 813.5,801.4 813.8,806.4 814.1,810.8 814.4,835.1 814.6,825.1 814.9,833.9 815.2,834.2 815.5,825.8 815.8,836.9 816.0,821.3 816.3,838.5 816.6,813.9 816.9,810.4 817.2,806.8 817.4,799.2 817.7,791.0 818.0,785.3 818.3,777.3 818.6,773.3 818.7,770.1 818.8,772.4 819.1,776.6 819.4,782.0 819.7,788.4 820.0,812.7 820.2,820.1 820.5,812.7 820.8,840.0 821.1,840.1 821.4,843.5 821.6,852.5 821.9,844.7 822.2,852.4 822.5,864.5 822.8,849.7 823.0,850.3 823.3,849.6 823.6,870.0 823.9,854.3 824.2,859.3 824.4,856.7 824.7,865.1 825.0,861.9 825.3,852.5 825.6,870.7 825.8,862.5 826.1,862.5 826.4,856.3 826.7,857.6 827.0,859.0 827.2,862.1 827.5,866.0 827.8,865.9 828.1,859.7 828.4,860.3 828.6,865.0 828.9,865.1 829.2,862.4 829.5,851.3 829.8,836.7 830.0,842.8 830.3,836.7 830.6,829.4 830.9,825.1 831.2,811.5 831.4,807.1 831.7,790.3 832.0,793.1 832.3,782.2 832.6,776.5 832.8,775.1 832.9,774.5 833.1,775.3 833.4,781.5 833.7,787.0 834.0,792.7 834.2,806.9 834.5,814.7 834.8,822.4 835.1,825.0 835.4,841.4 835.6,834.0 835.9,852.7 836.2,861.9 836.5,848.3 836.8,860.7 837.0,850.0 837.3,864.4 837.6,855.0 837.9,858.5 838.2,871.3 838.4,879.6 838.7,875.2 839.0,869.0 839.3,865.7 839.6,871.5 839.8,890.6 840.1,886.4 840.4,867.7 840.7,872.3 841.0,869.3 841.2,885.0 841.5,877.5 841.8,869.5 842.1,876.2 842.4,873.1 842.6,870.2 842.9,873.6 843.2,884.4 843.5,873.4 843.8,880.4 844.0,875.8 844.3,886.9 844.6,898.8 844.9,895.6 845.2,885.6 845.4,885.4 845.7,897.4 846.0,887.1 846.3,882.3 846.6,894.4 846.8,881.0 847.1,877.3 847.4,885.9 847.7,872.0 848.0,876.3 848.2,872.5 848.5,877.7 848.8,874.5 849.1,889.8 849.4,881.1 849.6,876.3 849.9,882.3 850.2,876.0 850.5,880.1 850.8,881.6 851.0,878.7 851.3,882.5 851.6,873.8 851.9,860.1 852.2,864.3 852.4,851.1 852.7,868.5 853.0,840.8 853.3,844.9 853.6,843.5 853.8,828.3 854.1,823.6 854.4,821.3 854.7,808.0 855.0,806.5 855.2,802.6 855.3,802.6 855.5,805.5 855.8,810.3 856.1,817.7 856.4,824.2 856.6,834.1 856.9,839.0 857.2,854.8 857.5,851.9 857.8,849.2 858.0,855.1 858.3,866.6 858.6,858.0 858.9,863.6 859.2,859.7 859.4,858.1 859.7,887.2 860.0,873.8 860.3,887.6 860.6,880.8 860.8,877.9 861.1,866.1 861.4,872.8 861.7,873.8 862.0,865.8 862.2,878.2 862.5,882.8 862.8,877.3 863.1,875.5 863.4,862.0 863.6,883.8 863.9,877.6 864.0,864.9 864.2,865.4 864.5,869.7 864.8,868.1 865.0,876.8 865.3,870.1 865.6,878.2 865.9,874.5 866.2,877.8 866.4,873.2 866.7,885.9 867.0,888.4 867.3,879.9 867.6,874.7 867.8,887.2 868.1,875.1 868.4,882.4 868.7,895.2 869.0,901.6 869.2,893.1 869.5,898.2 869.8,903.2 870.1,885.4 870.4,889.8 870.6,896.0 870.9,904.0 871.2,886.2 871.5,886.9 871.8,904.2 872.0,905.7 872.3,891.3 872.6,896.3 872.9,903.1 873.2,893.2 873.4,885.0 873.7,895.9 874.0,901.9 874.3,887.7 874.6,906.7 874.8,895.9 875.1,889.0 875.4,904.8 875.7,893.1 876.0,913.3 876.2,909.4 876.5,914.5 876.8,892.0 877.1,904.1 877.4,912.0 877.6,910.1 877.9,905.6 878.2,903.1 878.5,905.7 878.8,909.1 879.0,914.0 879.3,891.5 879.6,895.9 879.9,899.6 880.2,906.1 880.4,907.2 880.7,900.6 881.0,902.3 881.3,908.9 881.6,912.0 881.8,897.3 882.1,901.8 882.4,905.1 882.7,918.3 883.0,900.8 883.2,909.2 883.5,907.5 883.8,903.9 884.1,913.9 884.4,906.2 884.6,902.7 884.9,907.1 885.2,909.1 885.5,902.7 885.8,903.2 886.0,917.3 886.3,907.1 886.6,917.7 886.9,912.0 887.2,906.7 887.4,903.8 887.7,899.1 888.0,914.9 888.3,913.2 888.6,903.7 888.8,899.0 889.1,902.1 889.4,908.1 889.7,917.3 890.0,904.8 890.2,899.5 890.5,913.5 890.8,909.2 891.1,905.3 891.4,899.2 891.6,915.2 891.9,919.9 892.2,903.1 892.5,900.7 892.8,906.4 893.0,908.4 893.3,914.9 893.6,911.5 893.9,900.4 894.2,912.3 894.4,912.2 894.7,905.7 895.0,911.4 895.3,901.3 895.6,906.3 895.8,901.5 896.1,909.2 896.4,915.6 896.7,900.8 897.0,910.6 897.2,915.9 897.5,912.2 897.8,922.2 898.1,911.0 898.4,925.5 898.6,914.4 898.9,906.5 899.2,914.6 899.5,911.1 899.8,924.2 900.0,925.9 900.3,926.3 900.6,922.4 900.9,916.3 901.2,912.6 901.4,908.4 901.7,920.7 902.0,906.4 902.3,911.8 902.6,914.4 902.8,914.9 903.1,903.1 903.4,903.3 903.7,903.4 904.0,916.9 904.2,903.7 904.5,905.2 904.8,916.4 905.1,918.3 905.4,922.6 905.6,909.2 905.9,915.8 906.2,899.2 906.5,913.3 906.8,914.8 907.0,915.2 907.3,903.8 907.6,917.1 907.9,917.8 908.2,905.9 908.4,906.2 908.7,903.4 909.0,903.4 909.3,904.9 909.6,896.6 909.8,895.7 910.1,900.3 910.4,898.7 910.7,909.9 911.0,901.2 911.2,896.7 911.5,893.3 911.8,901.0 912.1,895.9 912.4,892.1 912.6,914.1 912.9,889.8 913.2,910.3 913.5,912.1 913.8,895.4 914.0,889.0 914.3,894.1 914.6,883.6 914.7,888.9 914.9,892.7 915.2,882.7 915.4,900.6 915.7,892.4 916.0,896.6 916.3,906.6 916.6,889.9 916.8,892.3 917.1,905.5 917.4,906.6 917.7,901.9 918.0,902.1 918.2,899.7 918.5,892.4 918.8,888.6 919.1,890.0 919.4,893.7 919.6,893.5 919.9,882.5 920.2,899.1 920.5,900.8 920.8,885.4 921.0,878.5 921.3,879.7 921.6,883.2 921.9,875.6 922.2,880.5 922.4,870.3 922.7,872.0 923.0,869.9 923.0,872.7 923.3,870.0 923.6,872.0 923.8,869.5 924.1,874.7 924.4,872.7 924.7,894.0 925.0,886.8 925.2,886.8 925.5,889.3 925.8,892.6 926.1,894.5 926.4,879.5 926.6,900.2 926.9,891.6 927.2,889.4 927.5,900.0 927.8,888.4 928.0,879.5 928.3,878.0 928.6,887.7 928.9,882.9 929.2,883.8 929.2,876.1 929.4,885.2 929.7,881.4 930.0,882.4 930.3,897.8 930.6,894.9 930.8,892.9 931.1,903.5 931.4,908.1 931.7,888.7 932.0,907.3 932.2,904.4 932.5,902.6 932.8,911.2 933.1,909.2 933.4,900.0 933.6,911.3 933.9,900.7 934.2,900.8 934.5,890.9 934.8,898.8 935.0,902.4 935.3,894.5 935.6,896.0 935.9,905.0 936.2,894.1 936.4,892.0 936.7,908.9 937.0,893.0 937.3,889.3 937.6,892.7 937.8,899.9 938.1,894.5 938.4,895.1 938.7,899.4 939.0,901.5 939.2,900.4 939.5,901.5 939.8,909.2 940.1,917.9 940.4,907.9 940.6,903.2 940.9,894.3 941.2,900.1 941.5,894.1 941.8,902.9 942.0,896.5 942.3,912.7 942.6,915.1 942.9,911.3 943.2,913.5 943.4,894.4 943.7,905.3 944.0,897.1 944.3,896.2 944.6,886.6 944.8,891.6 944.8,890.6 945.1,887.0 945.4,898.9 945.7,898.5 946.0,902.9 946.2,892.2 946.5,893.2 946.8,892.4 947.1,909.2 947.4,912.0 947.6,906.6 947.9,901.5 948.2,907.4 948.5,909.3 948.8,908.6 949.0,901.7 949.3,911.9 949.6,913.1 949.9,897.8 950.2,907.9 950.4,906.7 950.7,896.6 951.0,902.0 951.3,908.1 951.6,912.8 951.8,897.9 952.1,898.0 952.4,896.5 952.7,892.4 953.0,886.1 953.2,896.7 953.5,887.5 953.8,890.2 954.1,890.4 954.4,882.1 954.6,878.1 954.9,877.7 955.2,876.8 955.5,874.6 955.6,876.1 955.8,872.3 956.0,875.5 956.3,875.9 956.6,881.8 956.9,886.0 957.2,895.7 957.4,895.6 957.7,894.6 958.0,890.9 958.3,891.3 958.6,892.2 958.8,886.3 959.1,886.8 959.4,881.3 959.4,889.0 959.7,882.4 960.0,887.1 960.2,888.8 960.5,906.7 960.8,897.3 961.1,904.9 961.4,890.6 961.6,905.5 961.9,900.0 962.2,909.9 962.5,900.9 962.8,896.5 963.0,911.9 963.3,908.3 963.6,899.2 963.9,909.8 964.2,904.2 964.4,916.5 964.7,912.9 965.0,914.9 965.3,905.2 965.6,920.8 965.8,909.0 966.1,916.1 966.4,912.5 966.7,915.2 967.0,905.7 967.2,914.7 967.5,916.7 967.8,905.1 968.1,921.0 968.4,907.6 968.6,911.4 968.9,912.3 969.2,925.5 969.5,914.8 969.8,915.2 970.0,920.0 970.3,917.7 970.6,923.9 970.9,912.3 971.2,911.4 971.4,911.1 971.7,912.2 972.0,923.8 972.3,923.0 972.6,917.0 972.8,918.1 973.1,905.7 973.4,922.7 973.7,919.2 974.0,903.0 974.2,909.5 974.5,910.9 974.8,916.3 975.1,907.3 975.4,907.6 975.6,904.3 975.9,899.8 976.0,892.9 976.2,891.9 976.5,897.8 976.8,906.5 977.0,908.2 977.3,900.8 977.6,915.9 977.9,907.1 978.2,912.1 978.4,922.6 978.7,917.8 979.0,913.8 979.3,913.1 979.6,920.1 979.8,922.4 980.1,920.1 980.4,915.7 980.7,924.3 981.0,926.0 981.2,911.9 981.5,923.5 981.8,913.8 982.1,915.9 982.4,924.5 982.6,910.1 982.9,916.9 983.2,928.8 983.5,928.0 983.8,915.1 984.0,912.6 984.3,928.7 984.6,923.4 984.9,923.6 985.2,910.9 985.4,921.0 985.7,909.6 986.0,916.0 986.3,928.8 986.6,925.8 986.8,927.6 987.1,917.9 987.4,920.1 987.7,913.8 988.0,928.1 988.2,912.6 988.5,907.6 988.8,913.7 989.1,924.1 989.4,913.4 989.6,917.8 989.9,904.8 990.2,907.3 990.5,901.4 990.8,900.4 991.0,903.8 991.3,908.8 991.6,914.8 991.9,906.1 992.2,893.1 992.4,890.4 992.7,884.7 993.0,886.8 993.3,877.8 993.6,875.2 993.8,870.7 994.0,872.3 994.1,870.4 994.4,874.5 994.7,875.7 995.0,889.4 995.2,878.3 995.5,892.5 995.8,901.0 996.1,895.3 996.4,904.4 996.6,899.5 996.9,908.2 997.2,901.9 997.5,911.8 997.8,891.9 998.0,909.0 998.3,900.0 998.6,899.8 998.9,906.1 999.2,895.2 999.4,893.2 999.7,901.2 1000.0,888.4 1000.3,893.1 1000.6,902.2 1000.8,888.2 1001.1,901.3 1001.4,885.0 1001.7,891.7 1002.0,888.4 1002.2,879.2 1002.5,887.5 1002.8,877.1 1003.0,888.5 1003.1,889.3 1003.4,880.3 1003.6,886.3 1003.9,888.4 1004.2,884.7 1004.5,891.5 1004.8,899.7 1005.0,901.9 1005.3,909.3 1005.6,899.4 1005.9,898.4 1006.2,907.4 1006.4,907.9 1006.7,900.0 1007.0,904.1 1007.3,898.8 1007.6,902.9 1007.8,892.8 1008.1,894.3 1008.4,912.1 1008.7,900.6 1009.0,897.6 1009.2,908.8 1009.5,918.1 1009.8,912.7 1010.1,908.9 1010.4,907.0 1010.6,919.6 1010.9,920.1 1011.2,913.6 1011.5,910.4 1011.8,914.5 1012.0,917.3 1012.3,912.2 1012.6,908.9 1012.9,908.1 1013.2,902.6 1013.4,911.7 1013.7,916.2 1014.0,904.8 1014.3,908.5 1014.6,921.4 1014.8,908.9 1015.1,917.5 1015.4,905.9 1015.7,901.7 1016.0,915.5 1016.2,917.0 1016.5,914.1 1016.8,912.2 1017.1,922.8 1017.4,910.8 1017.6,907.8 1017.9,915.9 1018.2,922.1 1018.5,918.0 1018.8,923.1 1019.0,925.9 1019.3,910.8 1019.6,915.1 1019.9,913.5 1020.2,919.3 1020.4,905.9 1020.7,921.4 1021.0,906.6 1021.3,916.4 1021.6,911.6 1021.8,911.4 1022.1,919.7 1022.4,909.5 1022.7,922.5 1023.0,916.7 1023.2,910.7 1023.5,926.1 1023.8,911.0 1024.1,922.7 1024.4,914.8 1024.6,914.6 1024.9,926.2 1025.2,918.2 1025.5,914.3 1025.8,922.1 1026.0,913.4 1026.3,927.6 1026.6,913.4 1026.9,921.4 1027.2,914.1 1027.4,922.9 1027.7,912.8 1028.0,918.0 1028.3,924.8 1028.6,913.0 1028.8,921.5 1029.1,927.3 1029.4,922.5 1029.7,924.5 1030.0,930.8 1030.2,931.5 1030.5,915.9 1030.8,920.2 1031.1,911.3 1031.4,925.8 1031.6,929.2 1031.9,917.8 1032.2,914.3 1032.5,922.3 1032.8,914.4 1033.0,929.7 1033.3,925.8 1033.6,910.5 1033.9,921.5 1034.2,922.2 1034.4,922.9 1034.7,917.8 1035.0,912.0 1035.3,918.6 1035.6,915.4 1035.8,930.9 1036.1,924.3 1036.4,929.9 1036.7,915.7 1037.0,922.7 1037.2,921.4 1037.5,917.5 1037.8,920.2 1038.1,914.7 1038.4,924.1 1038.6,917.5 1038.9,924.2 1039.2,925.9 1039.5,921.1 1039.8,918.1 1040.0,928.5 1040.3,928.7 1040.6,920.1 1040.9,930.5 1041.2,912.0 1041.4,924.6 1041.7,926.8 1042.0,923.1 1042.3,913.6 1042.6,922.8 1042.8,929.0 1043.1,924.5 1043.4,913.6 1043.7,921.0 1044.0,930.2 1044.2,926.8 1044.5,927.3 1044.8,915.9 1045.1,921.1 1045.4,915.4 1045.6,915.1 1045.9,909.4 1046.2,915.8 1046.5,922.0 1046.8,914.7 1047.0,902.8 1047.3,915.1 1047.6,902.5 1047.9,910.8 1048.2,899.5 1048.4,909.9 1048.7,895.2 1049.0,896.8 1049.3,880.7 1049.6,879.5 1049.8,875.3 1050.1,869.2 1050.4,868.1 1050.4,868.1 1050.7,869.5 1051.0,873.2 1051.2,871.8 1051.5,885.4 1051.8,886.2 1052.1,879.7 1052.4,888.2 1052.6,879.3 1052.9,876.2 1053.2,873.8 1053.5,873.4 1053.5,877.8 1053.8,883.0 1054.0,886.1 1054.3,891.6 1054.6,903.2 1054.9,889.5 1055.2,905.3 1055.4,915.0 1055.7,905.7 1056.0,919.5 1056.3,910.0 1056.6,910.1 1056.8,902.4 1057.1,919.6 1057.4,920.9 1057.7,919.2 1058.0,915.9 1058.2,918.4 1058.5,910.8 1058.8,902.7 1059.1,914.5 1059.4,917.1 1059.6,927.5 1059.9,910.7 1060.2,915.2 1060.5,904.5 1060.8,904.4 1061.0,906.3 1061.3,922.8 1061.6,913.2 1061.9,913.3 1062.2,910.4 1062.4,917.1 1062.7,923.2 1063.0,922.5 1063.3,918.5 1063.6,920.8 1063.8,922.3 1064.1,924.2 1064.4,921.7 1064.7,916.5 1065.0,909.9 1065.2,919.2 1065.5,918.0 1065.8,916.7 1066.1,914.3 1066.4,910.9 1066.6,926.1 1066.9,915.7 1067.2,921.8 1067.5,920.3 1067.8,915.6 1068.0,929.0 1068.3,913.9 1068.6,923.5 1068.9,919.9 1069.2,922.8 1069.4,916.1 1069.7,930.3 1070.0,932.1 1070.3,930.3 1070.6,923.2 1070.8,917.1 1071.1,934.5 1071.4,912.9 1071.7,915.5 1072.0,924.8 1072.2,925.6 1072.5,915.1 1072.8,926.6 1073.1,915.3 1073.4,929.5 1073.6,928.0 1073.9,925.5 1074.2,932.3 1074.5,928.0 1074.8,913.2 1075.0,930.7 1075.3,927.5 1075.6,931.8 1075.9,924.1 1076.2,930.8 1076.4,923.2 1076.7,928.5 1077.0,931.0 1077.3,920.6 1077.6,919.9 1077.8,924.6 1078.1,930.5 1078.4,928.8 1078.7,928.9 1079.0,933.4 1079.2,932.4 1079.5,923.1 1079.8,936.9 1080.1,936.3 1080.4,935.0 1080.6,918.3 1080.9,935.4 1081.2,921.1 1081.5,928.8 1081.8,928.7 1082.0,939.0 1082.3,937.3 1082.6,932.3 1082.9,935.2 1083.2,927.7 1083.4,924.3 1083.7,935.2 1084.0,935.8 1084.3,931.2 1084.6,939.5 1084.8,940.2 1085.1,927.4 1085.4,931.6 1085.7,932.7 1086.0,920.5 1086.2,936.1 1086.5,935.2 1086.8,931.9 1087.1,930.3 1087.4,929.5 1087.6,941.1 1087.9,930.7 1088.2,938.0 1088.5,934.8 1088.8,941.6 1089.0,941.7 1089.3,933.6 1089.6,932.7 1089.9,926.0 1090.2,927.6 1090.4,937.7 1090.7,939.1 1091.0,937.5 1091.3,929.8 1091.6,931.4 1091.8,922.0 1092.1,935.7 1092.4,922.1 1092.7,923.5 1093.0,927.2 1093.2,938.3 1093.5,923.9 1093.8,933.9 1094.1,939.6 1094.4,931.7 1094.6,929.6 1094.9,919.9 1095.2,922.9 1095.5,918.4 1095.8,929.5 1096.0,929.6 1096.3,935.4 1096.6,926.5 1096.9,927.8 1097.2,919.9 1097.4,926.2 1097.7,930.9 1098.0,925.9 1098.3,928.8 1098.6,924.9 1098.8,928.7 1099.1,927.1 1099.4,920.5 1099.7,925.2 1100.0,930.0 1100.2,926.9 1100.5,923.5 1100.8,918.5 1101.1,927.8 1101.4,920.7 1101.6,922.1 1101.9,925.0 1102.2,923.7 1102.5,910.6 1102.8,907.1 1103.0,907.8 1103.3,899.9 1103.5,905.8 1103.6,903.8 1103.9,902.6 1104.2,901.1 1104.4,914.1 1104.7,913.5 1105.0,907.2 1105.3,910.8 1105.6,915.2 1105.8,920.6 1106.1,908.6 1106.4,913.9 1106.7,914.3 1107.0,926.0 1107.2,913.2 1107.5,912.5 1107.8,911.1 1108.1,913.0 1108.4,914.1 1108.6,908.2 1108.9,909.8 1109.2,911.8 1109.5,900.3 1109.8,899.9 1110.0,898.5 1110.3,891.6 1110.6,891.0 1110.8,890.4 1110.9,891.5 1111.2,893.2 1111.4,895.1 1111.7,897.4 1112.0,900.9 1112.3,906.0 1112.6,914.3 1112.8,914.9 1113.1,923.0 1113.4,927.1 1113.7,918.1 1114.0,930.0 1114.2,929.6 1114.5,922.2 1114.8,914.7 1115.1,919.5 1115.4,931.3 1115.6,918.7 1115.9,936.9 1116.2,924.4 1116.5,931.9 1116.8,926.2 1117.0,928.3 1117.3,933.4 1117.6,925.4 1117.9,932.0 1118.2,930.4 1118.4,938.4 1118.7,926.8 1119.0,942.9 1119.3,941.7 1119.6,925.3 1119.8,926.0 1120.1,931.7 1120.4,938.4 1120.7,940.1 1121.0,940.1 1121.2,940.5 1121.5,933.9 1121.8,926.3 1122.1,926.7 1122.4,929.1 1122.6,926.5 1122.9,943.7 1123.2,927.7 1123.5,938.6 1123.8,936.6 1124.0,927.9 1124.3,926.7 1124.6,934.0 1124.9,938.8 1125.2,934.8 1125.4,942.5 1125.7,932.1 1126.0,931.7 1126.3,937.7 1126.6,944.7 1126.8,940.6 1127.1,944.1 1127.4,932.0 1127.7,941.0 1128.0,937.2 1128.2,944.9 1128.5,931.7 1128.8,936.2 1129.1,929.5 1129.4,927.9 1129.6,940.1 1129.9,939.1 1130.2,929.6 1130.5,941.4 1130.8,935.6 1131.0,936.4 1131.3,944.0 1131.6,940.2 1131.9,941.5 1132.2,942.9 1132.4,937.9 1132.7,934.4 1133.0,943.0 1133.3,943.4 1133.6,926.4 1133.8,929.2 1134.1,928.1 1134.4,926.2 1134.7,937.6 1135.0,925.6 1135.2,924.8 1135.5,927.0 1135.8,929.7 1136.1,926.7 1136.4,930.3 1136.6,921.4 1136.9,930.2 1137.2,924.5 1137.5,929.3 1137.8,936.1 1138.0,930.8 1138.3,926.9 1138.6,932.6 1138.9,932.2 1139.2,925.5 1139.4,916.8 1139.7,926.7 1140.0,921.2 1140.0,917.1 1140.3,925.3 1140.6,921.1 1140.8,922.8 1141.1,920.1 1141.4,921.6 1141.7,932.3 1142.0,916.9 1142.2,933.9 1142.5,936.1 1142.8,936.2 1143.1,932.1 1143.4,924.3 1143.6,930.5 1143.9,934.2 1144.2,937.8 1144.5,929.7 1144.8,920.8 1145.0,924.8 1145.3,923.7 1145.6,934.4 1145.9,933.1 1146.2,931.7 1146.4,929.2 1146.7,922.4 1147.0,928.6 1147.3,937.0 1147.6,924.6 1147.8,925.0 1148.1,923.5 1148.4,927.8 1148.7,933.3 1149.0,923.3 1149.2,934.9 1149.5,926.8 1149.8,944.4 1150.1,931.6 1150.4,937.1 1150.6,925.2 1150.9,941.0 1151.2,935.4 1151.5,931.0 1151.8,941.3 1152.0,929.9 1152.3,927.5 1152.6,938.6 1152.9,926.9 1153.2,933.5 1153.4,926.8 1153.7,925.4 1154.0,940.8 1154.3,933.9 1154.6,939.1 1154.8,939.6 1155.1,935.4 1155.4,939.4 1155.7,934.3 1156.0,935.2 1156.2,941.2 1156.5,926.8 1156.8,938.6 1157.1,932.1 1157.4,938.3 1157.6,930.6 1157.9,944.2 1158.2,940.9 1158.5,932.2 1158.8,941.1 1159.0,926.4 1159.3,928.6 1159.6,941.8 1159.9,946.3 1160.2,938.4 1160.4,942.8 1160.7,938.9 1161.0,945.3 1161.3,932.1 1161.6,926.7 1161.8,930.1 1162.1,936.1 1162.4,940.5 1162.7,933.9 1163.0,945.3 1163.2,930.8 1163.5,942.0 1163.8,933.2 1164.1,936.3 1164.4,934.3 1164.6,944.0 1164.9,945.8 1165.2,926.2 1165.5,935.5 1165.8,940.3 1166.0,932.3 1166.3,936.7 1166.6,935.8 1166.9,940.2 1167.2,929.2 1167.4,938.0 1167.7,931.4 1168.0,933.2 1168.3,929.7 1168.6,933.1 1168.8,934.5 1169.1,946.9 1169.4,939.3 1169.7,934.6 1170.0,932.4 1170.2,927.7 1170.5,938.4 1170.8,926.8 1171.1,928.9 1171.4,939.5 1171.6,931.1 1171.9,929.8 1172.2,948.2 1172.5,930.3 1172.8,934.6 1173.0,929.2 1173.3,938.6 1173.6,944.2 1173.9,948.7 1174.2,945.8 1174.4,942.4 1174.7,938.7 1175.0,945.2 1175.3,938.0 1175.6,942.1 1175.8,929.4 1176.1,941.1 1176.4,929.2 1176.7,934.9 1177.0,927.7 1177.2,930.0 1177.5,946.0 1177.8,939.6 1178.1,931.2 1178.4,944.3 1178.6,926.7 1178.9,935.7 1179.2,929.2 1179.5,940.9 1179.8,943.1 1180.0,936.1 1180.3,935.9 1180.6,934.0 1180.9,944.2 1181.2,938.9 1181.4,947.1 1181.7,937.9 1182.0,936.4 1182.3,929.5 1182.6,929.5 1182.8,940.9 1183.1,935.7 1183.4,945.4 1183.7,944.6 1184.0,938.5 1184.2,940.0 1184.5,946.9 1184.8,945.3 1185.1,943.6 1185.4,930.8 1185.6,935.9 1185.9,930.2 1186.2,947.9 1186.5,935.3 1186.8,939.0 1187.0,938.2 1187.3,934.5 1187.6,943.3 1187.9,935.4 1188.2,939.1 1188.4,941.1 1188.7,937.6 1189.0,934.8 1189.3,941.7 1189.6,936.9 1189.8,929.6 1190.1,926.7 1190.4,928.4 1190.7,933.6 1191.0,941.0 1191.2,930.1 1191.5,935.5 1191.8,930.8 1192.1,944.3 1192.4,949.6 1192.6,937.2 1192.9,944.3 1193.2,951.3 1193.5,941.2 1193.8,937.9 1194.0,943.0 1194.3,944.5 1194.6,940.3 1194.9,941.4 1195.2,948.4 1195.4,936.4 1195.7,949.2 1196.0,938.7 1196.3,948.2 1196.6,949.2 1196.8,941.9 1197.1,937.6 1197.4,934.0 1197.7,933.1 1198.0,946.1 1198.2,932.8 1198.5,942.9 1198.8,941.2 1199.1,950.3 1199.4,941.6 1199.6,952.0 1199.9,944.9 1200.2,954.2 1200.5,944.6 1200.8,944.8 1201.0,941.0 1201.3,952.9 1201.6,944.8 1201.9,951.9 1202.2,943.6 1202.4,936.7 1202.7,951.8 1203.0,950.4 1203.3,939.6 1203.6,947.4 1203.8,932.2 1204.1,945.2 1204.4,938.2 1204.7,942.2 1205.0,939.2 1205.2,942.1 1205.5,939.4 1205.8,937.7 1206.1,940.4 1206.4,943.0 1206.6,947.8 1206.9,944.2 1207.2,938.9 1207.5,941.7 1207.8,940.1 1208.0,952.0 1208.3,933.8 1208.6,940.2 1208.9,933.3 1209.2,942.0 1209.4,935.9 1209.7,939.8 1210.0,936.8 1210.3,946.5 1210.6,948.8 1210.8,944.9 1211.1,946.0 1211.4,942.8 1211.7,930.6 1212.0,934.9 1212.2,943.5 1212.5,939.4 1212.8,934.5 1213.1,932.8 1213.4,938.8 1213.6,951.9 1213.9,937.1 1214.2,949.4 1214.5,936.7 1214.8,946.1 1215.0,943.4 1215.3,934.7 1215.6,935.5 1215.9,936.0 1216.2,944.4 1216.4,932.4 1216.7,940.4 1217.0,936.8 1217.3,950.7 1217.6,934.4 1217.8,945.1 1218.1,944.7 1218.4,950.9 1218.7,949.6 1219.0,934.4 1219.2,951.4 1219.5,940.3 1219.8,945.0 1220.1,929.6 1220.4,948.7 1220.6,939.8 1220.9,939.2 1221.2,935.4 1221.5,945.9 1221.8,928.2 1222.0,938.1 1222.3,934.3 1222.6,939.8 1222.9,949.1 1223.2,934.7 1223.4,939.1 1223.7,932.5 1224.0,944.5 1224.3,938.5 1224.6,946.4 1224.8,949.5 1225.1,929.3 1225.4,930.1 1225.7,934.9 1226.0,939.7 1226.2,933.9 1226.5,943.3 1226.8,938.8 1227.1,931.7 1227.4,939.1 1227.6,933.8 1227.9,932.8 1228.2,939.8 1228.5,940.3 1228.8,947.6 1229.0,934.7 1229.3,934.2 1229.6,948.2 1229.9,942.1 1230.2,941.8 1230.4,940.0 1230.7,931.9 1231.0,932.7 1231.3,941.3 1231.6,939.4 1231.8,936.5 1232.1,942.7 1232.4,946.6 1232.7,935.7 1233.0,941.1 1233.2,944.6 1233.5,938.5 1233.8,939.4 1234.1,934.9 1234.4,949.1 1234.6,945.8 1234.9,944.0 1235.2,938.8 1235.5,949.3 1235.8,933.7 1236.0,947.8 1236.3,949.8 1236.6,942.9 1236.9,936.6 1237.2,936.6 1237.4,948.5 1237.7,943.0 1238.0,949.0 1238.3,940.3 1238.6,937.2 1238.8,954.1 1239.1,938.0 1239.4,948.5 1239.7,950.0 1240.0,943.6 1240.2,945.5 1240.5,946.4 1240.8,952.6 1241.1,943.8 1241.4,947.7 1241.6,953.0 1241.9,938.8 1242.2,938.3 1242.5,947.4 1242.8,945.0 1243.0,950.7 1243.3,948.6 1243.6,941.4 1243.9,945.7 1244.2,940.1 1244.4,955.2 1244.7,951.3 1245.0,944.3 1245.3,956.1 1245.6,945.9 1245.8,949.6 1246.1,938.3 1246.4,937.1 1246.7,954.2 1247.0,943.1 1247.2,940.3 1247.5,941.6 1247.8,951.5 1248.1,942.4 1248.4,939.4 1248.6,934.7 1248.9,940.6 1249.2,948.2 1249.5,944.5 1249.8,944.9 1250.0,958.4 1250.3,953.9 1250.6,947.3 1250.9,954.0 1251.2,944.5 1251.4,954.4 1251.7,957.8 1252.0,948.5 1252.3,956.4 1252.6,946.0 1252.8,940.5 1253.1,946.2 1253.4,946.6 1253.7,953.5 1254.0,949.1 1254.2,943.9 1254.5,946.1 1254.8,949.2 1255.1,952.8 1255.4,943.1 1255.6,945.5 1255.9,949.0 1256.2,942.8 1256.5,954.7 1256.8,947.8 1257.0,940.4 1257.3,941.9 1257.6,954.0 1257.9,944.3 1258.2,941.7 1258.4,952.5 1258.7,954.7 1259.0,938.7 1259.3,949.8 1259.6,956.5 1259.8,957.3 1260.1,953.0 1260.4,949.6 1260.7,937.5 1261.0,948.1 1261.2,940.0 1261.5,941.2 1261.8,948.7 1262.1,940.2 1262.4,942.7 1262.6,955.6 1262.9,950.6 1263.2,936.5 1263.5,940.2 1263.8,937.4 1264.0,945.4 1264.3,936.7 1264.6,941.1 1264.9,941.5 1265.2,943.9 1265.4,941.1 1265.7,941.7 1266.0,940.0 1266.3,935.6 1266.6,945.8 1266.8,939.8 1267.1,935.3 1267.4,933.3 1267.7,940.0 1268.0,946.2 1268.2,941.5 1268.5,934.0 1268.8,938.5 1269.1,935.5 1269.4,939.5 1269.6,947.0 1269.9,942.9 1270.2,941.4 1270.5,938.6 1270.8,939.4 1271.0,942.8 1271.3,932.1 1271.6,938.4 1271.9,931.7 1272.2,947.5 1272.4,934.8 1272.7,946.9 1273.0,932.8 1273.3,950.3 1273.6,944.6 1273.8,940.1 1274.1,936.4 1274.4,936.4 1274.7,936.6 1275.0,945.3 1275.2,944.1 1275.5,947.0 1275.8,938.7 1276.1,940.6 1276.4,933.8 1276.6,933.1 1276.9,944.7 1277.2,939.7 1277.5,945.0 1277.8,943.0 1278.0,941.4 1278.3,942.1 1278.6,932.3 1278.9,939.2 1279.2,942.6 1279.4,940.4 1279.7,943.2 1280.0,932.3 1280.3,947.4 1280.6,946.4 1280.8,945.9 1281.1,942.7 1281.4,943.1 1281.7,944.8 1282.0,936.1 1282.2,937.7 1282.5,942.3 1282.8,933.8 1283.1,945.6 1283.4,938.6 1283.6,941.3 1283.9,941.0 1284.2,947.8 1284.5,939.0 1284.8,953.0 1285.0,943.2 1285.3,941.0 1285.6,952.9 1285.9,944.2 1286.2,934.8 1286.4,943.6 1286.7,948.0 1287.0,951.1 1287.3,948.9 1287.6,942.9 1287.8,955.0 1288.1,944.0 1288.4,936.1 1288.7,955.0 1289.0,954.1 1289.2,952.7 1289.5,955.7 1289.8,951.6 1290.1,945.4 1290.4,946.8 1290.6,938.2 1290.9,946.0 1291.2,938.6 1291.5,938.8 1291.8,936.2 1292.0,944.9 1292.3,948.7 1292.6,941.2 1292.9,934.6 1293.2,937.0 1293.4,941.2 1293.7,940.5 1294.0,939.7 1294.3,937.0 1294.6,953.1 1294.8,945.4 1295.1,946.6 1295.4,944.2 1295.7,935.1 1296.0,948.1 1296.2,935.6 1296.5,936.2 1296.8,931.8 1297.1,926.2 1297.4,929.7 1297.6,919.4 1297.9,916.8 1298.2,911.8 1298.4,911.9 1298.5,907.1 1298.8,915.7 1299.0,922.7 1299.3,918.2 1299.6,925.0 1299.9,933.4 1300.2,922.8 1300.4,937.1 1300.7,920.1 1301.0,927.4 1301.3,924.0 1301.3,919.7 1301.6,922.0 1301.8,929.2 1302.1,930.8 1302.4,934.0 1302.7,934.6 1303.0,942.7 1303.2,940.0 1303.5,940.0 1303.8,942.3 1304.1,943.5 1304.4,950.7 1304.6,944.0 1304.9,945.5 1305.2,940.6 1305.5,937.5 1305.8,940.6 1306.0,944.0 1306.3,938.2 1306.6,952.5 1306.9,939.7 1307.2,946.3 1307.4,940.9 1307.7,946.7 1308.0,951.0 1308.3,954.3 1308.6,940.5 1308.8,953.8 1309.1,944.1 1309.4,954.7 1309.7,938.1 1310.0,941.1 1310.2,944.0 1310.5,951.7 1310.8,944.6 1311.1,951.1 1311.4,947.2 1311.6,950.3 1311.9,944.8 1312.2,944.2 1312.5,947.1 1312.8,947.1 1313.0,944.6 1313.3,945.0 1313.6,936.0 1313.9,936.6 1314.2,939.7 1314.4,940.9 1314.7,936.7 1315.0,954.2 1315.3,938.2 1315.6,947.3 1315.8,950.3 1316.1,939.5 1316.4,947.9 1316.7,943.1 1317.0,937.3 1317.2,947.9 1317.5,948.8 1317.8,954.5 1318.1,948.1 1318.4,934.6 1318.6,946.2 1318.9,932.1 1319.2,935.7 1319.5,930.9 1319.8,942.0 1320.0,938.1 1320.3,950.0 1320.6,946.1 1320.9,939.1 1321.2,946.6 1321.4,948.9 1321.7,939.0 1322.0,939.9 1322.3,944.3 1322.6,932.7 1322.8,932.6 1323.1,942.8 1323.4,940.9 1323.7,939.8 1324.0,954.0 1324.2,946.4 1324.5,951.5 1324.8,946.7 1325.1,944.0 1325.4,940.1 1325.6,934.2 1325.9,942.6 1326.2,939.6 1326.5,948.2 1326.8,939.1 1327.0,939.0 1327.3,944.1 1327.6,934.0 1327.9,937.6 1328.2,942.9 1328.4,941.8 1328.7,942.9 1329.0,946.8 1329.3,948.2 1329.6,954.7 1329.8,946.9 1330.1,942.0 1330.4,951.4 1330.7,947.6 1331.0,942.2 1331.2,950.7 1331.5,932.2 1331.8,941.7 1332.1,937.0 1332.4,942.1 1332.6,943.0 1332.9,944.1 1333.2,947.4 1333.5,938.4 1333.8,939.4 1334.0,949.0 1334.3,943.9 1334.6,942.4 1334.9,939.5 1335.2,946.7 1335.4,939.8 1335.7,953.2 1336.0,954.6 1336.3,950.8 1336.6,943.2 1336.8,952.1 1337.1,938.2 1337.4,950.8 1337.7,946.4 1338.0,950.7 1338.2,940.4 1338.5,943.5 1338.8,947.5 1339.1,938.4 1339.4,948.6 1339.6,938.3 1339.9,941.1 1340.2,951.3 1340.5,942.4 1340.8,945.5 1341.0,941.7 1341.3,940.7 1341.6,952.2 1341.9,948.1 1342.2,938.3 1342.4,940.9 1342.7,943.4 1343.0,948.3 1343.3,946.2 1343.6,945.0 1343.8,935.8 1344.1,953.7 1344.4,941.4 1344.7,946.5 1345.0,944.3 1345.2,953.0 1345.5,948.1 1345.8,950.3 1346.1,945.5 1346.4,943.9 1346.6,947.5 1346.9,949.5 1347.2,950.6 1347.5,950.0 1347.8,950.2 1348.0,935.2 1348.3,945.5 1348.6,948.0 1348.9,951.7 1349.2,942.5 1349.4,939.1 1349.7,938.4 1350.0,942.0 1350.3,939.1 1350.6,948.0 1350.8,955.2 1351.1,942.9 1351.4,944.6 1351.7,944.8 1352.0,941.6 1352.2,954.6 1352.5,941.2 1352.8,952.6 1353.1,944.5 1353.4,939.9 1353.6,944.7 1353.9,944.7 1354.2,940.6 1354.5,943.4 1354.8,953.3 1355.0,948.9 1355.3,938.6 1355.6,954.5 1355.9,953.1 1356.2,952.1 1356.4,962.4 1356.7,940.5 1357.0,949.9 1357.3,953.5 1357.6,940.1 1357.8,954.0 1358.1,948.1 1358.4,944.2 1358.7,960.6 1359.0,957.1 1359.2,946.0 1359.5,952.1 1359.8,943.4 1360.1,962.2 1360.4,942.6 1360.6,950.3 1360.9,946.3 1361.2,957.9 1361.5,950.7 1361.8,951.5 1362.0,954.8 1362.3,949.1 1362.6,956.0 1362.9,960.7 1363.2,961.9 1363.4,941.0 1363.7,954.2 1364.0,958.7 1364.3,955.5 1364.6,960.1 1364.8,951.4 1365.1,957.3 1365.4,943.8 1365.7,943.8 1366.0,942.3 1366.2,956.4 1366.5,956.7 1366.8,961.9 1367.1,957.9 1367.4,960.0 1367.6,954.3 1367.9,962.7 1368.2,959.0 1368.5,957.6 1368.8,962.6 1369.0,945.9 1369.3,955.4 1369.6,953.1 1369.9,955.4 1370.2,954.4 1370.4,955.7 1370.7,942.1 1371.0,949.2 1371.3,944.1 1371.6,949.6 1371.8,943.0 1372.1,956.3 1372.4,956.7 1372.7,962.4 1373.0,945.1 1373.2,948.0 1373.5,953.7 1373.8,953.6 1374.1,943.1 1374.4,945.6 1374.6,948.7 1374.9,955.9 1375.2,955.0 1375.5,952.2 1375.8,961.7 1376.0,960.7 1376.3,957.7 1376.6,955.0 1376.9,958.0 1377.2,953.3 1377.4,961.3 1377.7,944.0 1378.0,950.2 1378.3,951.6 1378.6,955.1 1378.8,949.4 1379.1,943.7 1379.4,952.7 1379.7,961.6 1380.0,950.6 1380.2,957.6 1380.5,958.1 1380.8,955.0 1381.1,950.9 1381.4,952.8 1381.6,961.3 1381.9,956.0 1382.2,954.3 1382.5,951.1 1382.8,953.3 1383.0,960.2 1383.3,960.0 1383.6,955.1 1383.9,955.4 1384.2,961.1 1384.4,961.7 1384.7,958.4 1385.0,950.9 1385.3,943.1 1385.6,949.5 1385.8,957.5 1386.1,960.6 1386.4,957.8 1386.7,954.7 1387.0,962.0 1387.2,955.9 1387.5,950.1 1387.8,946.4 1388.1,956.4 1388.4,947.4 1388.6,952.1 1388.9,950.2 1389.2,948.7 1389.5,947.3 1389.8,949.7 1390.0,942.0 1390.3,950.2 1390.6,944.9 1390.9,944.5 1391.2,947.4 1391.4,946.1 1391.7,949.4 1392.0,945.8 1392.3,961.5 1392.6,942.3 1392.8,951.0 1393.1,946.5 1393.4,943.1 1393.7,952.8 1394.0,959.7 1394.2,948.9 1394.5,960.2 1394.8,944.1 1395.1,953.4 1395.4,945.9 1395.6,943.5 1395.9,945.5 1396.2,944.5 1396.5,950.4 1396.8,958.1 1397.0,953.1 1397.3,958.3 1397.6,948.2 1397.9,946.7 1398.2,960.1 1398.4,960.7 1398.7,948.5 1399.0,953.0 1399.3,957.2 1399.6,952.0 1399.8,944.0 1400.1,953.3 1400.4,941.1 1400.7,961.5 1401.0,954.0 1401.2,944.6 1401.5,958.6 1401.8,960.1 1402.1,960.0 1402.4,955.2 1402.6,945.6 1402.9,948.1 1403.2,961.1 1403.5,951.4 1403.8,946.9 1404.0,948.7 1404.3,941.5 1404.6,947.6 1404.9,952.0 1405.2,946.1 1405.4,959.2 1405.7,943.6 1406.0,956.1 1406.3,951.5 1406.6,957.3 1406.8,950.5 1407.1,939.0 1407.4,942.5 1407.7,952.7 1408.0,946.0 1408.2,957.2 1408.5,940.0 1408.8,953.4 1409.1,944.7 1409.4,949.2 1409.6,951.1 1409.9,935.9 1410.2,940.2 1410.5,946.4 1410.8,944.1 1411.0,936.8 1411.3,939.8 1411.6,941.7 1411.9,939.5 1412.2,944.7 1412.4,950.8 1412.7,943.6 1413.0,935.8 1413.3,937.3 1413.6,947.9 1413.8,951.5 1414.1,941.9 1414.4,943.8 1414.7,936.5 1415.0,955.5 1415.2,948.7 1415.5,945.6 1415.8,953.2 1416.1,951.6 1416.4,955.8" fill="none" stroke="#000" stroke-width="3.9" stroke-linejoin="round" stroke-linecap="round"/>
<g class="b" font-size="37.5" text-anchor="middle">
<text x="274.9" y="701.9">Q</text>
<text x="307.2" y="707.5">M</text>
<text x="322.4" y="663.3">Q</text>
<text x="374.7" y="782.6">K</text>
<text x="399.6" y="744.2">Q</text>
<text x="437" y="734.2">Q</text>
<text x="472.4" y="737.3">C</text>
<text x="499.8" y="769.1">K</text>
<text x="524.9" y="341.3">Q</text>
<text x="540.6" y="688.5">G</text>
<text x="563.9" y="105.2">C</text>
<text x="603" y="756.6">K</text>
<text x="630.5" y="753.9">G</text>
<text x="655.5" y="764.3">C</text>
<text x="706.1" y="731">C</text>
<text x="760.1" y="769">C</text>
<text x="792.6" y="838.2">M</text>
<text x="807.9" y="759.6">C</text>
<text x="835" y="759.6">C</text>
<text x="857" y="786.6">Q</text>
<text x="923.7" y="851.8">Q</text>
<text x="993.8" y="852.9">C</text>
<text x="1050.3" y="849.8">Q</text>
<text x="1110.3" y="873.9">Q</text>
<text x="1299.4" y="892.2">K</text>
</g>
<g class="b">
<text x="1020.4" y="162.9" font-size="41.2">Q-Quartz<tspan x="1191.0" dy="1.3" font-size="36">： </tspan><tspan x="1234.3" dy="-1.3" font-size="41.7">57.2%</tspan></text>
<text x="1020.4" y="224.4" font-size="41.2">C-Calcite<tspan x="1188.0" dy="1.3" font-size="36">： </tspan><tspan x="1230.3" dy="-1.3" font-size="41.7">23.4%</tspan></text>
<text x="1020.4" y="286.4" font-size="41.2">K-Kaolinite<tspan x="1228.1" dy="1.3" font-size="36">： </tspan><tspan x="1270.8" dy="-1.3" font-size="41.7">12.3%</tspan></text>
<text x="1020.4" y="347.9" font-size="41.2">M-Muscovite<tspan x="1252.7" dy="1.3" font-size="36">： </tspan><tspan x="1295.7" dy="-1.3" font-size="41.7">5.6%</tspan></text>
<text x="1020.4" y="409.9" font-size="41.2">G-Gypsum<tspan x="1211.7" dy="1.3" font-size="36">： </tspan><tspan x="1255.8" dy="-1.3" font-size="41.7">1.5%</tspan></text>
</g>
</svg></body></html>
